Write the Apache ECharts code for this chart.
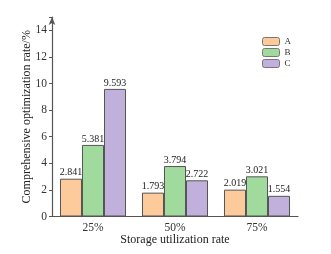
<!DOCTYPE html>
<html><head><meta charset="utf-8">
<script src="https://cdn.jsdelivr.net/npm/echarts@6/dist/echarts.min.js"></script>
<style>html,body{margin:0;padding:0;background:#fff}#c{width:331px;height:254px}</style>
</head><body><div id="c"></div>
<script>
const categories = ['25%', '50%', '75%'];
const seriesNames = ['A', 'B', 'C'];
const valuesA = [2.841, 1.793, 2.019];
const valuesB = [5.381, 3.794, 3.021];
const valuesC = [9.593, 2.722, 1.554];
const yTicks = [0, 2, 4, 6, 8, 10, 12, 14];
const colors = ['#FDCA9C', '#A0DA9C', '#C1B0DC'];
const font = 'Liberation Serif, Times New Roman, serif';

const chart = echarts.init(document.getElementById('c'), null, {renderer: 'canvas'});
const mk = (name, data, i) => ({
  name, type: 'bar', data,
  barGap: '0%', barCategoryGap: '19.5%',
  itemStyle: {color: colors[i], borderColor: '#555', borderWidth: 1},
  label: {show: true, position: 'top', distance: 1, fontFamily: font, fontSize: 10, color: '#222',
    formatter: p => p.value.toFixed(3)},
  emphasis: {disabled: true}
});
chart.setOption({
  animation: false,
  backgroundColor: '#fff',
  grid: {left: 52, right: 33, top: 17, bottom: 37.5, containLabel: false, outerBoundsMode: 'none'},
  legend: {
    data: seriesNames, orient: 'vertical', right: 35, top: 32,
    itemWidth: 17, itemHeight: 8, itemGap: 2,
    textStyle: {fontFamily: font, fontSize: 9, color: '#333'},
    itemStyle: {borderColor: '#777', borderWidth: 1}
  },
  xAxis: {
    type: 'category', data: categories,
    axisLine: {lineStyle: {color: '#555', width: 1.2}},
    axisTick: {show: true, inside: true, alignWithLabel: true, length: 3, lineStyle: {color: '#555'}},
    axisLabel: {fontFamily: font, fontSize: 11.5, color: '#333', margin: 5},
    name: 'Storage utilization rate', nameLocation: 'middle', nameGap: 17, nameMoveOverlap: false,
    nameTextStyle: {fontFamily: font, fontSize: 12, color: '#222'}
  },
  yAxis: {
    type: 'value', min: 0, max: 15, interval: 2,
    splitLine: {show: false},
    axisLine: {show: true, symbol: ['none', 'arrow'], symbolSize: [5, 8], lineStyle: {color: '#555', width: 1.2}},
    axisTick: {show: true, length: 3, lineStyle: {color: '#555'}},
    axisLabel: {fontFamily: font, fontSize: 11.5, color: '#333', margin: 5,
      formatter: v => yTicks.includes(v) ? String(v) : ''},
    name: 'Comprehensive optimization rate/%', nameLocation: 'middle', nameGap: 19, nameMoveOverlap: false,
    nameTextStyle: {fontFamily: font, fontSize: 12, color: '#222'}
  },
  series: [mk('A', valuesA, 0), mk('B', valuesB, 1), mk('C', valuesC, 2)]
});
</script></body></html>
